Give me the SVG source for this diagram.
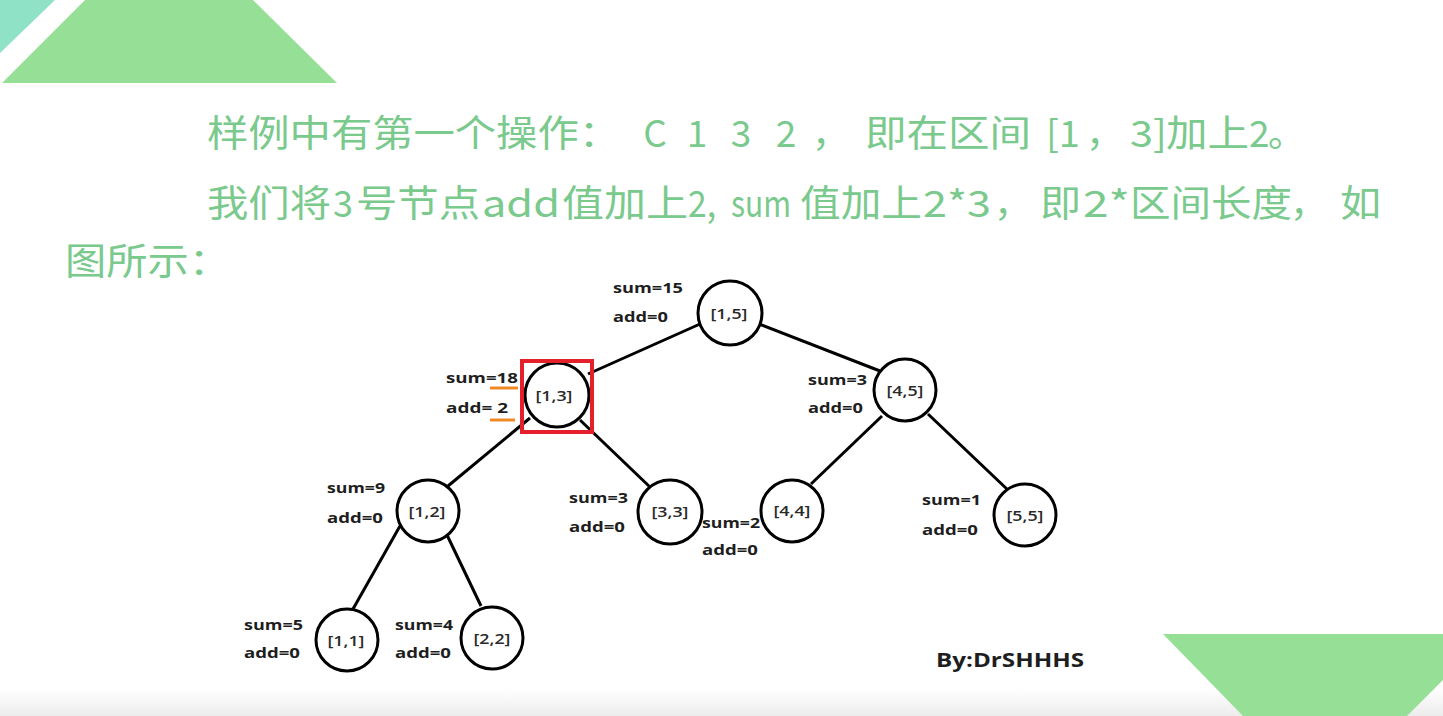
<svg xmlns="http://www.w3.org/2000/svg" width="1443" height="716" viewBox="0 0 1443 716">
<defs>
<linearGradient id="fade" x1="0" y1="0" x2="0" y2="1">
<stop offset="0" stop-color="#ffffff"/>
<stop offset="1" stop-color="#ececec"/>
</linearGradient>
<style>
.t{font-family:"Noto Sans CJK SC","Noto Sans",sans-serif;font-size:37px;fill:#7ac98d}
.lb{font-family:"Open Sans","Liberation Sans",sans-serif;font-size:15px;font-weight:bold;fill:#1e1e1e}
.nt{font-family:"Open Sans","Liberation Sans",sans-serif;font-size:15px;font-weight:600;fill:#2a2a2a;text-anchor:middle}
.nd{fill:#fff;stroke:#000;stroke-width:3}
.ed{stroke:#000;stroke-width:3;fill:none}
.ul{stroke:#f08a24;stroke-width:3}
</style>
</defs>
<rect width="1443" height="716" fill="#fff"/>
<rect x="0" y="688" width="1443" height="28" fill="url(#fade)"/>
<g id="decor">
<polygon points="0,0 55,0 0,53" fill="#8fe2c6"/>
<polygon points="85,0 253,0 337,83 2,83" fill="#96df96"/>
<polygon points="1163,634 1443,634 1443,680 1407,716 1243,716" fill="#96df96"/>
</g>
<g id="title">
<text class="t" y="147"><tspan x="207" textLength="413" lengthAdjust="spacingAndGlyphs">样例中有第一个操作：</tspan></text>
<text class="t" y="147" text-anchor="middle"><tspan x="655">C</tspan><tspan x="697">1</tspan><tspan x="741">3</tspan><tspan x="786">2</tspan></text>
<text class="t" y="147" x="812">，</text>
<text class="t" y="147" x="865" textLength="166" lengthAdjust="spacingAndGlyphs">即在区间</text>
<text class="t" y="147" x="1046" textLength="34" lengthAdjust="spacingAndGlyphs">[1</text>
<text class="t" y="147" x="1086">，</text>
<text class="t" y="147" x="1130" textLength="37" lengthAdjust="spacingAndGlyphs">3]</text>
<text class="t" y="147" x="1166" textLength="83" lengthAdjust="spacingAndGlyphs">加上</text>
<text class="t" y="147" x="1249">2</text>
<text class="t" y="147" x="1268">。</text>

<text class="t" y="217" x="207" textLength="124" lengthAdjust="spacingAndGlyphs">我们将</text>
<text class="t" y="217" x="333" textLength="20" lengthAdjust="spacingAndGlyphs">3</text>
<text class="t" y="217" x="356" textLength="124" lengthAdjust="spacingAndGlyphs">号节点</text>
<text class="t" y="217" x="482" textLength="78" lengthAdjust="spacingAndGlyphs">add</text>
<text class="t" y="217" x="562" textLength="126" lengthAdjust="spacingAndGlyphs">值加上</text>
<text class="t" y="217" x="688" textLength="28" lengthAdjust="spacingAndGlyphs">2,</text>
<text class="t" y="217" x="731" textLength="60" lengthAdjust="spacingAndGlyphs">sum</text>
<text class="t" y="217" x="800" textLength="122" lengthAdjust="spacingAndGlyphs">值加上</text>
<text class="t" y="217" x="923" textLength="68" lengthAdjust="spacingAndGlyphs">2*3</text>
<text class="t" y="217" x="994">，</text>
<text class="t" y="217" x="1040" textLength="41" lengthAdjust="spacingAndGlyphs">即</text>
<text class="t" y="217" x="1083" textLength="47" lengthAdjust="spacingAndGlyphs">2*</text>
<text class="t" y="217" x="1130" textLength="162" lengthAdjust="spacingAndGlyphs">区间长度</text>
<text class="t" y="217" x="1290">，</text>
<text class="t" y="217" x="1340" textLength="41" lengthAdjust="spacingAndGlyphs">如</text>

<text class="t" y="275" x="65" textLength="165" lengthAdjust="spacingAndGlyphs">图所示：</text>
</g>
<g id="connectors">
<line class="ed" x1="700" y1="324" x2="588" y2="374"/>
<line class="ed" x1="759" y1="324" x2="880" y2="371"/>
<line class="ed" x1="530" y1="418" x2="448" y2="486"/>
<line class="ed" x1="580" y1="420" x2="651" y2="488"/>
<line class="ed" x1="882" y1="416" x2="811" y2="484"/>
<line class="ed" x1="928" y1="414" x2="1009" y2="491"/>
<line class="ed" x1="400" y1="526" x2="353" y2="609"/>
<line class="ed" x1="447" y1="535" x2="481" y2="606"/>
</g>
<g id="n15"><circle class="nd" cx="730" cy="313" r="32"/><text class="nt" x="729" y="319" textLength="37" lengthAdjust="spacingAndGlyphs">[1,5]</text>
<text class="lb" x="613" y="293" textLength="70" lengthAdjust="spacingAndGlyphs">sum=15</text><text class="lb" x="613" y="322" textLength="55" lengthAdjust="spacingAndGlyphs">add=0</text></g>
<g id="n13"><circle class="nd" cx="557" cy="395" r="32"/><text class="nt" x="554" y="401" textLength="37" lengthAdjust="spacingAndGlyphs">[1,3]</text>
<rect x="522" y="361" width="70" height="71" fill="none" stroke="#e3202b" stroke-width="4"/>
<text class="lb" x="446" y="383" textLength="72" lengthAdjust="spacingAndGlyphs">sum=18</text><text class="lb" x="446" y="413" textLength="62" lengthAdjust="spacingAndGlyphs" xml:space="preserve">add= 2</text>
<line class="ul" x1="490" y1="388" x2="518" y2="388"/><line class="ul" x1="490" y1="420" x2="515" y2="420"/></g>
<g id="n45"><circle class="nd" cx="905" cy="390" r="31"/><text class="nt" x="905" y="396" textLength="37" lengthAdjust="spacingAndGlyphs">[4,5]</text>
<text class="lb" x="808" y="385" textLength="59" lengthAdjust="spacingAndGlyphs">sum=3</text><text class="lb" x="808" y="413" textLength="55" lengthAdjust="spacingAndGlyphs">add=0</text></g>
<g id="n12"><circle class="nd" cx="428" cy="511" r="31"/><text class="nt" x="427" y="517" textLength="37" lengthAdjust="spacingAndGlyphs">[1,2]</text>
<text class="lb" x="327" y="493" textLength="58" lengthAdjust="spacingAndGlyphs">sum=9</text><text class="lb" x="327" y="523" textLength="56" lengthAdjust="spacingAndGlyphs">add=0</text></g>
<g id="n33"><circle class="nd" cx="670" cy="512" r="32"/><text class="nt" x="670" y="517" textLength="37" lengthAdjust="spacingAndGlyphs">[3,3]</text>
<text class="lb" x="569" y="503" textLength="59" lengthAdjust="spacingAndGlyphs">sum=3</text><text class="lb" x="569" y="532" textLength="56" lengthAdjust="spacingAndGlyphs">add=0</text></g>
<g id="n44"><circle class="nd" cx="792" cy="511" r="31"/><text class="nt" x="792" y="516" textLength="37" lengthAdjust="spacingAndGlyphs">[4,4]</text>
<text class="lb" x="702" y="528" textLength="58" lengthAdjust="spacingAndGlyphs">sum=2</text><text class="lb" x="702" y="555" textLength="56" lengthAdjust="spacingAndGlyphs">add=0</text></g>
<g id="n55"><circle class="nd" cx="1025" cy="515" r="31"/><text class="nt" x="1025" y="521" textLength="37" lengthAdjust="spacingAndGlyphs">[5,5]</text>
<text class="lb" x="922" y="505" textLength="59" lengthAdjust="spacingAndGlyphs">sum=1</text><text class="lb" x="922" y="535" textLength="56" lengthAdjust="spacingAndGlyphs">add=0</text></g>
<g id="n11"><circle class="nd" cx="347" cy="640" r="31"/><text class="nt" x="346" y="646" textLength="37" lengthAdjust="spacingAndGlyphs">[1,1]</text>
<text class="lb" x="244" y="630" textLength="59" lengthAdjust="spacingAndGlyphs">sum=5</text><text class="lb" x="244" y="658" textLength="56" lengthAdjust="spacingAndGlyphs">add=0</text></g>
<g id="n22"><circle class="nd" cx="492" cy="638" r="31"/><text class="nt" x="492" y="644" textLength="37" lengthAdjust="spacingAndGlyphs">[2,2]</text>
<text class="lb" x="395" y="630" textLength="58" lengthAdjust="spacingAndGlyphs">sum=4</text><text class="lb" x="395" y="658" textLength="56" lengthAdjust="spacingAndGlyphs">add=0</text></g>
<text class="lb" x="936" y="667" style="font-size:20px" textLength="148" lengthAdjust="spacingAndGlyphs">By:DrSHHHS</text>
</svg>
